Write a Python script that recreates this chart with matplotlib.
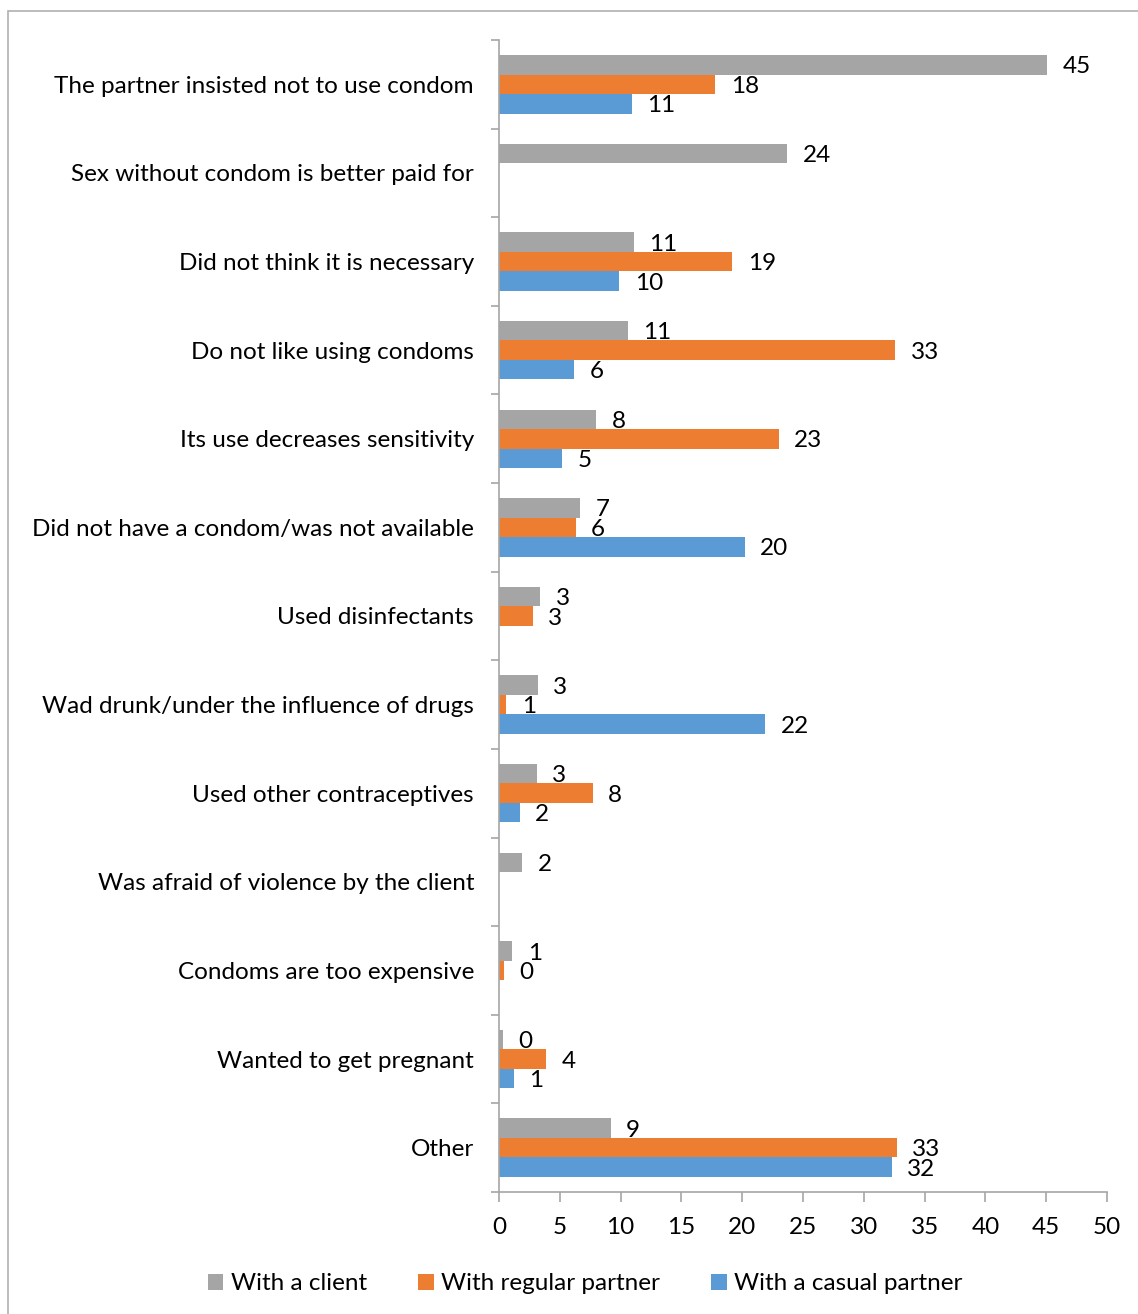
import numpy as np
import matplotlib
matplotlib.use("Agg")
from matplotlib import pyplot as plt
from matplotlib.patches import Rectangle

plt.rcParams["font.family"] = ["Lato", "DejaVu Sans"]

reasons = [
    "The partner insisted not to use condom",
    "Sex without condom is better paid for",
    "Did not think it is necessary",
    "Do not like using condoms",
    "Its use decreases sensitivity",
    "Did not have a condom/was not available",
    "Used disinfectants",
    "Wad drunk/under the influence of drugs",
    "Used other contraceptives",
    "Was afraid of violence by the client",
    "Condoms are too expensive",
    "Wanted to get pregnant",
    "Other",
]

# percentages; nan = no answer in that group
client = [45.1, 23.7, 11.1, 10.6, 8.0, 6.7, 3.4, 3.2, 3.1, 1.9, 1.1, 0.3, 9.2]
regular = [17.8, np.nan, 19.2, 32.6, 23.0, 6.3, 2.8, 0.6, 7.7, np.nan, 0.4, 3.9, 32.7]
casual = [10.9, np.nan, 9.9, 6.2, 5.2, 20.2, np.nan, 21.9, 1.7, np.nan, np.nan, 1.2, 32.3]

series = [
    ("With a client", client, "#A5A5A5"),
    ("With regular partner", regular, "#ED7D31"),
    ("With a casual partner", casual, "#5B9BD5"),
]

W, H = 1138, 1314
fig = plt.figure(figsize=(W / 100, H / 100), dpi=100)
ax = fig.add_axes([499 / W, 1 - 1192 / H, (1107 - 499) / W, (1192 - 40) / H])

# thin frame round the chart area
fig.patches.append(Rectangle((8 / W, -0.05), 1.2, 1 - 11 / H + 0.05,
                             transform=fig.transFigure, fill=False,
                             edgecolor="#B0B0B0", linewidth=1.2))

y = np.arange(len(reasons))
h = 0.22
fs = 17.5
for i, (name, vals, color) in enumerate(series):
    vals = np.array(vals, dtype=float)
    bars = ax.barh(y + (i - 1) * h, np.nan_to_num(vals), height=h, color=color,
                   label=name, linewidth=0)
    labels = ["" if np.isnan(v) else f"{v:.0f}" for v in vals]
    for b, lab in zip(bars, labels):
        ax.annotate(lab, (b.get_width(), b.get_y() + b.get_height() / 2),
                    xytext=(11, -1.5), textcoords="offset points",
                    ha="left", va="center", fontsize=fs)

ax.set_xlim(0, 50)
ax.set_ylim(len(reasons) - 0.5, -0.5)
ax.set_xticks(np.arange(0, 51, 5))

# tick marks between the groups, names at the group centres
ax.set_yticks(np.arange(-0.5, len(reasons)), labels=[])
ax.set_yticks(y, labels=reasons, minor=True)
ax.tick_params(axis="y", which="major", direction="out", length=6, width=1.2, color="#A6A6A6")
ax.tick_params(axis="y", which="minor", length=0, pad=18, labelsize=fs)
ax.tick_params(axis="x", direction="out", length=7, width=1.2, color="#A6A6A6",
               pad=11, labelsize=fs)

for side in ("top", "right"):
    ax.spines[side].set_visible(False)
for side in ("left", "bottom"):
    ax.spines[side].set_color("#A6A6A6")
    ax.spines[side].set_linewidth(1.2)

fig.legend(loc="center", bbox_to_anchor=(585 / W, 1 - 1284 / H), ncol=3,
           frameon=False, fontsize=fs, handlelength=0.65, handleheight=0.65,
           handletextpad=0.3, columnspacing=2.1)

fig.savefig("out.png", dpi=100)
